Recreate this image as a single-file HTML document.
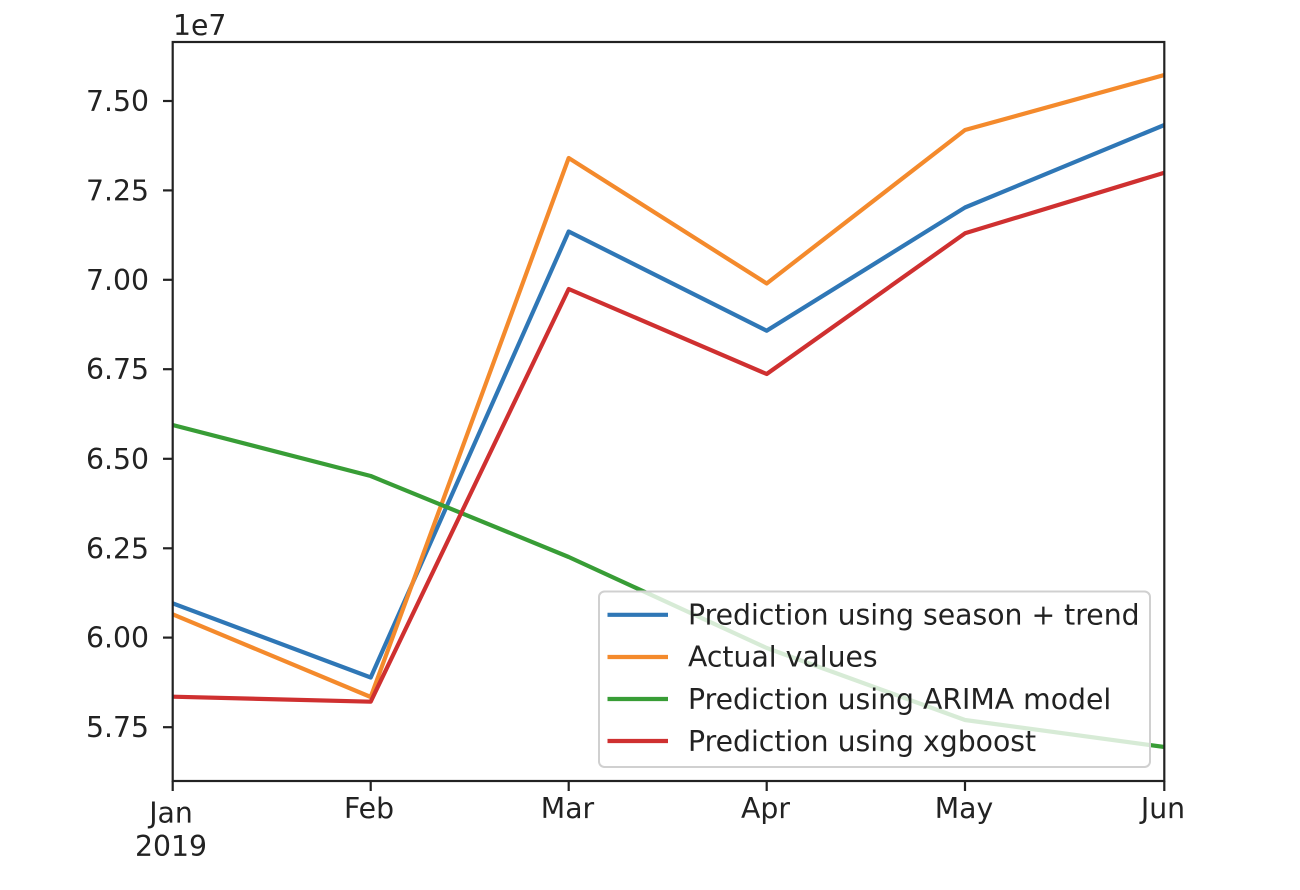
<!DOCTYPE html>
<html>
<head>
<meta charset="utf-8">
<style>
html,body{margin:0;padding:0;background:#fff;}
svg{display:block;}
text{font-family:"DejaVu Sans","Liberation Sans",sans-serif;font-size:28.3px;fill:#222;}
</style>
</head>
<body>
<svg width="1300" height="890" viewBox="0 0 1300 890" xmlns="http://www.w3.org/2000/svg">
<defs>
<clipPath id="ax"><rect x="172.7" y="42" width="991.6" height="739"/></clipPath>
</defs>
<rect width="1300" height="890" fill="#fff"/>

<g clip-path="url(#ax)" fill="none" stroke-width="4.2" stroke-linejoin="round" stroke-linecap="square">
<polyline stroke="#2f77b6" points="172.7,603.3 370.7,677.5 568.7,231.5 766.7,330.7 965,207.5 1164.3,125"/>
<polyline stroke="#f48a2c" points="172.7,614.3 370.7,697 568.7,158 766.7,283.5 965,130 1164.3,75"/>
<polyline stroke="#389d36" points="172.7,425 370.7,476 568.7,557 766.7,648 965,720 1164.3,747"/>
<polyline stroke="#cf3030" points="172.7,696.7 370.7,701.7 568.7,289 766.7,374 965,233.3 1164.3,172.7"/>
</g>

<!-- axes frame -->
<rect x="172.7" y="42" width="991.6" height="739" fill="none" stroke="#222" stroke-width="2.2"/>

<!-- y ticks -->
<g stroke="#222" stroke-width="2.2">
<line x1="163" y1="101" x2="172.7" y2="101"/>
<line x1="163" y1="190.4" x2="172.7" y2="190.4"/>
<line x1="163" y1="279.8" x2="172.7" y2="279.8"/>
<line x1="163" y1="369.2" x2="172.7" y2="369.2"/>
<line x1="163" y1="458.8" x2="172.7" y2="458.8"/>
<line x1="163" y1="548.3" x2="172.7" y2="548.3"/>
<line x1="163" y1="637.6" x2="172.7" y2="637.6"/>
<line x1="163" y1="727.2" x2="172.7" y2="727.2"/>
</g>
<g text-anchor="end">
<text x="149" y="111">7.50</text>
<text x="149" y="200.4">7.25</text>
<text x="149" y="289.8">7.00</text>
<text x="149" y="379.2">6.75</text>
<text x="149" y="468.8">6.50</text>
<text x="149" y="558.3">6.25</text>
<text x="149" y="647.6">6.00</text>
<text x="149" y="737.2">5.75</text>
</g>
<text x="173" y="35">1e7</text>

<!-- x ticks -->
<g stroke="#222" stroke-width="2.2">
<line x1="172.7" y1="781" x2="172.7" y2="791"/>
<line x1="370.7" y1="781" x2="370.7" y2="791"/>
<line x1="568.7" y1="781" x2="568.7" y2="791"/>
<line x1="766.7" y1="781" x2="766.7" y2="791"/>
<line x1="965" y1="781" x2="965" y2="791"/>
<line x1="1164.3" y1="781" x2="1164.3" y2="791"/>
</g>
<g text-anchor="middle">
<text x="171" y="822.5">Jan</text>
<text x="171" y="856">2019</text>
<text x="369" y="818">Feb</text>
<text x="567.5" y="818">Mar</text>
<text x="765.5" y="818">Apr</text>
<text x="964" y="818">May</text>
<text x="1163" y="818">Jun</text>
</g>

<!-- legend -->
<rect x="599" y="591.5" width="551" height="175.5" rx="5.5" ry="5.5" fill="#fff" fill-opacity="0.8" stroke="#d0d0d0" stroke-width="2"/>
<g stroke-width="4.2" stroke-linecap="butt">
<line x1="607.5" y1="614.8" x2="668" y2="614.8" stroke="#2f77b6"/>
<line x1="607.5" y1="657" x2="668" y2="657" stroke="#f48a2c"/>
<line x1="607.5" y1="699" x2="668" y2="699" stroke="#389d36"/>
<line x1="607.5" y1="741" x2="668" y2="741" stroke="#cf3030"/>
</g>
<text x="688" y="624.5">Prediction using season + trend</text>
<text x="688" y="666.7">Actual values</text>
<text x="688" y="708.9">Prediction using ARIMA model</text>
<text x="688" y="751.1">Prediction using xgboost</text>
</svg>
</body>
</html>
